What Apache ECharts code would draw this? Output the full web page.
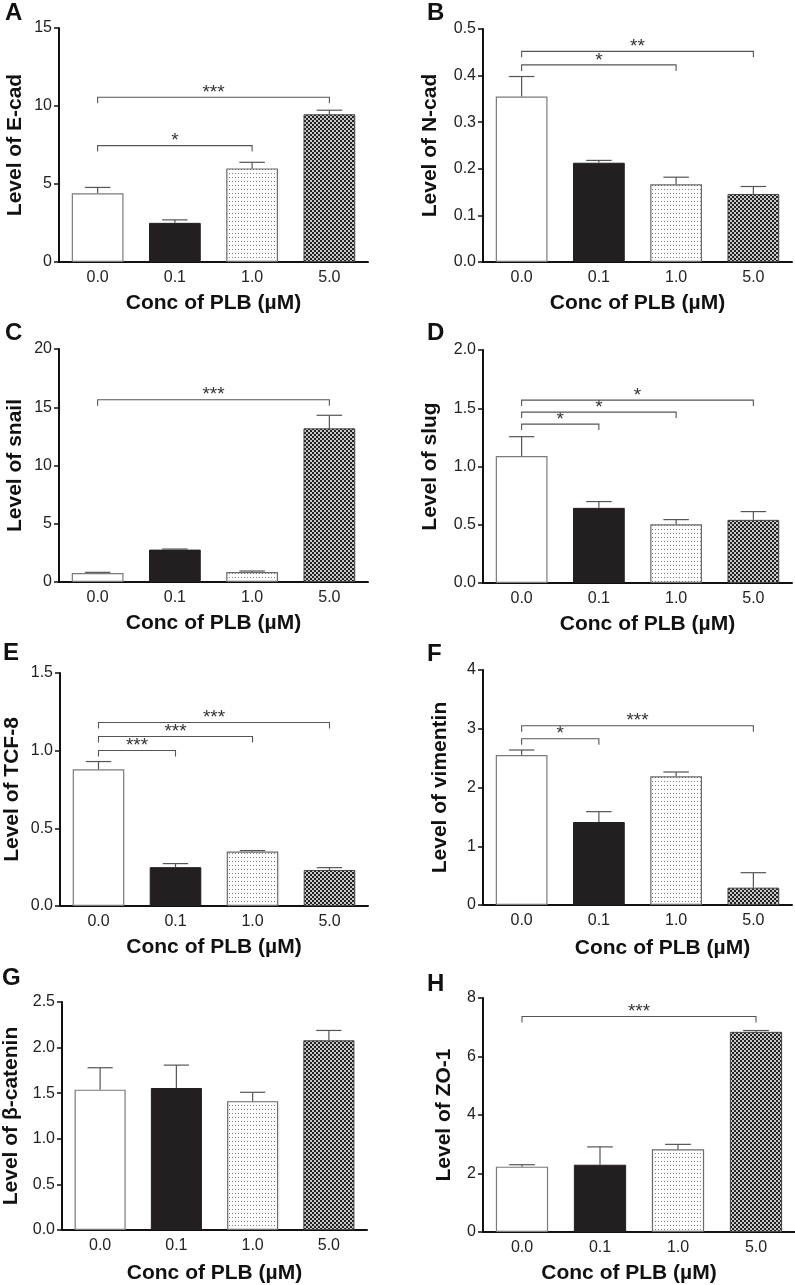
<!DOCTYPE html>
<html>
<head>
<meta charset="utf-8">
<script src="https://cdn.jsdelivr.net/npm/echarts@6/dist/echarts.min.js"></script>
<style>
html,body{margin:0;padding:0;background:#fff;}
#chart{width:795px;height:1285px;}
</style>
</head>
<body>
<div id="chart"></div>
<script>
// ---------------- DATA ----------------
const categories = ['0.0', '0.1', '1.0', '5.0'];

const ecadMean = [4.41, 2.51, 6.00, 9.47];
const ecadErr  = [0.37, 0.19, 0.39, 0.26];
const ecadSig  = [[0, 2, 7.46, '*'], [0, 3, 10.56, '***']];

const ncadMean = [0.355, 0.213, 0.167, 0.146];
const ncadErr  = [0.043, 0.005, 0.015, 0.016];
const ncadSig  = [[0, 2, 0.423, '*'], [0, 3, 0.452, '**']];

const snailMean = [0.77, 2.78, 0.86, 13.19];
const snailErr  = [0.06, 0.05, 0.08, 1.12];
const snailSig  = [[0, 3, 15.65, '***']];

const slugMean = [1.090, 0.645, 0.504, 0.542];
const slugErr  = [0.166, 0.054, 0.040, 0.071];
const slugSig  = [[0, 1, 1.364, '*'], [0, 2, 1.467, '*'], [0, 3, 1.570, '*']];

const tcf8Mean = [0.880, 0.250, 0.351, 0.232];
const tcf8Err  = [0.050, 0.023, 0.006, 0.015];
const tcf8Sig  = [[0, 1, 1.001, '***'], [0, 2, 1.091, '***'], [0, 3, 1.181, '***']];

const vimMean = [2.553, 1.413, 2.190, 0.295];
const vimErr  = [0.085, 0.176, 0.074, 0.255];
const vimSig  = [[0, 1, 2.831, '*'], [0, 3, 3.052, '***']];

const bcatMean = [1.539, 1.557, 1.413, 2.080];
const bcatErr  = [0.240, 0.251, 0.097, 0.108];
const bcatSig  = [];

const zo1Mean = [2.235, 2.300, 2.826, 6.843];
const zo1Err  = [0.065, 0.610, 0.170, 0.045];
const zo1Sig  = [[0, 3, 7.365, '***']];

const panelLetters = ['A', 'B', 'C', 'D', 'E', 'F', 'G', 'H'];
const yTitles = ['Level of E-cad', 'Level of N-cad', 'Level of snail', 'Level of slug',
                 'Level of TCF-8', 'Level of vimentin', 'Level of β-catenin', 'Level of ZO-1'];
const xTitle = 'Conc of PLB (µM)';
const yMax      = [15, 0.5, 20, 2.0, 1.5, 4, 2.5, 8];
const yInterval = [5, 0.1, 5, 0.5, 0.5, 1, 0.5, 2];
const yDecimals = [0, 1, 0, 1, 1, 0, 1, 0];

const means = [ecadMean, ncadMean, snailMean, slugMean, tcf8Mean, vimMean, bcatMean, zo1Mean];
const errs  = [ecadErr, ncadErr, snailErr, slugErr, tcf8Err, vimErr, bcatErr, zo1Err];
const sigs  = [ecadSig, ncadSig, snailSig, slugSig, tcf8Sig, vimSig, bcatSig, zo1Sig];

// ---------------- LAYOUT / STYLE ----------------
const grids = [
  [59, 28, 309, 234], [483, 29, 309, 233],
  [59, 349, 309, 233], [483, 350, 309, 233],
  [60, 673, 308, 233], [483, 670, 309, 235],
  [60, 1002, 307, 232], [483, 998, 312, 235]
];
const yNameGaps = [33, 42, 33, 42, 37, 32, 40, 28];
const xNameGaps = [31, 31, 31, 31, 31, 33, 33, 31];
const xNamePad  = [[0,0,0,0],[0,0,0,0],[0,0,0,0],[0,0,0,20],[0,0,0,0],[0,0,0,50],[0,0,0,0],[0,20,0,0]];
const letterPos = [[5, 1], [427, 1], [5, 321], [427, 321], [3, 641], [427, 642], [2, 966], [427, 972]];

const FONT = '"Liberation Sans", Arial, Helvetica, sans-serif';

function makePattern(kind) {
  const c = document.createElement('canvas');
  const ctx = c.getContext('2d');
  if (kind === 'dots') {
    c.width = 3; c.height = 4;
    ctx.fillStyle = '#ffffff'; ctx.fillRect(0, 0, 3, 4);
    ctx.fillStyle = '#7a7a7a'; ctx.fillRect(1, 1, 1, 1);
  } else {
    c.width = 4; c.height = 4;
    ctx.fillStyle = '#c8c8c8'; ctx.fillRect(0, 0, 4, 4);
    ctx.fillStyle = '#222222'; ctx.fillRect(0, 0, 2, 2); ctx.fillRect(2, 2, 2, 2);
  }
  return c;
}
const dotPat = makePattern('dots');
const chkPat = makePattern('checker');

const barStyles = [
  { color: '#ffffff', borderColor: '#7a7a7a', borderWidth: 1.2 },
  { color: '#231f20', borderColor: '#231f20', borderWidth: 1 },
  { color: { image: dotPat, repeat: 'repeat' }, borderColor: '#6a6a6a', borderWidth: 1.2 },
  { color: { image: chkPat, repeat: 'repeat' }, borderColor: '#444444', borderWidth: 1 }
];

const chart = echarts.init(document.getElementById('chart'), null, { renderer: 'canvas' });

const option = {
  backgroundColor: '#ffffff',
  animation: false,
  grid: [], xAxis: [], yAxis: [], series: [],
  graphic: []
};

for (let p = 0; p < 8; p++) {
  const g = grids[p];
  option.grid.push({ left: g[0], top: g[1], width: g[2], height: g[3], containLabel: false });
  option.xAxis.push({
    type: 'category', gridIndex: p, data: categories,
    axisLine: { lineStyle: { color: '#111', width: 2 } },
    axisTick: { show: false },
    axisLabel: { color: '#222', fontSize: 16, fontFamily: FONT, margin: 8 },
    name: xTitle, nameLocation: 'middle', nameGap: xNameGaps[p],
    nameTextStyle: { color: '#111', fontSize: 21, fontWeight: 'bold', fontFamily: FONT, padding: xNamePad[p] }
  });
  const dec = yDecimals[p];
  option.yAxis.push({
    type: 'value', gridIndex: p, min: 0, max: yMax[p], interval: yInterval[p],
    axisLine: { show: true, lineStyle: { color: '#111', width: 2 } },
    axisTick: { show: true, inside: false, length: 5, lineStyle: { color: '#111', width: 1.5 } },
    splitLine: { show: false },
    axisLabel: { color: '#222', fontSize: 16, fontFamily: FONT, margin: 7,
                 formatter: v => v.toFixed(dec) },
    name: yTitles[p], nameLocation: 'middle', nameGap: yNameGaps[p], nameRotate: 90,
    nameTextStyle: { color: '#111', fontSize: 21, fontWeight: 'bold', fontFamily: FONT }
  });

  option.series.push({
    type: 'bar', xAxisIndex: p, yAxisIndex: p, barWidth: '67%',
    data: means[p].map((v, i) => ({ value: v, itemStyle: barStyles[i] })),
    silent: true
  });

  const errData = means[p].map((v, i) => [i, v, errs[p][i]]);
  option.series.push({
    type: 'custom', xAxisIndex: p, yAxisIndex: p, silent: true, clip: false,
    encode: { x: 0, y: 1 },
    data: errData,
    z: 3,
    renderItem: function (params, api) {
      const x = api.value(0), m = api.value(1), e = api.value(2);
      const base = api.coord([x, m]);
      const top = api.coord([x, m + e]);
      const hw = api.size([1, 0])[0] * 0.165;
      const st = { stroke: '#555', lineWidth: 1.2, fill: null };
      return {
        type: 'group',
        children: [
          { type: 'line', shape: { x1: top[0], y1: base[1], x2: top[0], y2: top[1] }, style: st },
          { type: 'line', shape: { x1: top[0] - hw, y1: top[1], x2: top[0] + hw, y2: top[1] }, style: st }
        ]
      };
    }
  });

  const sigList = sigs[p];
  if (sigList.length) {
    option.series.push({
      type: 'custom', xAxisIndex: p, yAxisIndex: p, silent: true, clip: false,
      encode: { x: [0, 1], y: 2 },
      data: sigList.map(s => [s[0], s[1], s[2]]),
      z: 4,
      renderItem: function (params, api) {
        const a = api.value(0), b = api.value(1), y = api.value(2);
        const pa = api.coord([a, y]);
        const pb = api.coord([b, y]);
        const drop = 6;
        const st = { stroke: '#555', lineWidth: 1.1, fill: null };
        const label = sigList[params.dataIndex][3];
        return {
          type: 'group',
          children: [
            { type: 'polyline', shape: { points: [[pa[0], pa[1] + drop], [pa[0], pa[1]], [pb[0], pb[1]], [pb[0], pb[1] + drop]] }, style: st },
            { type: 'text', x: (pa[0] + pb[0]) / 2, y: pa[1] + 5,
              style: { text: label, fill: '#333', font: '19px ' + FONT, align: 'center', verticalAlign: 'bottom' } }
          ]
        };
      }
    });
  }

  option.graphic.push({
    type: 'text', left: letterPos[p][0], top: letterPos[p][1],
    style: { text: panelLetters[p], fill: '#111', font: 'bold 24px ' + FONT }
  });
}

chart.setOption(option);
</script>
</body>
</html>
